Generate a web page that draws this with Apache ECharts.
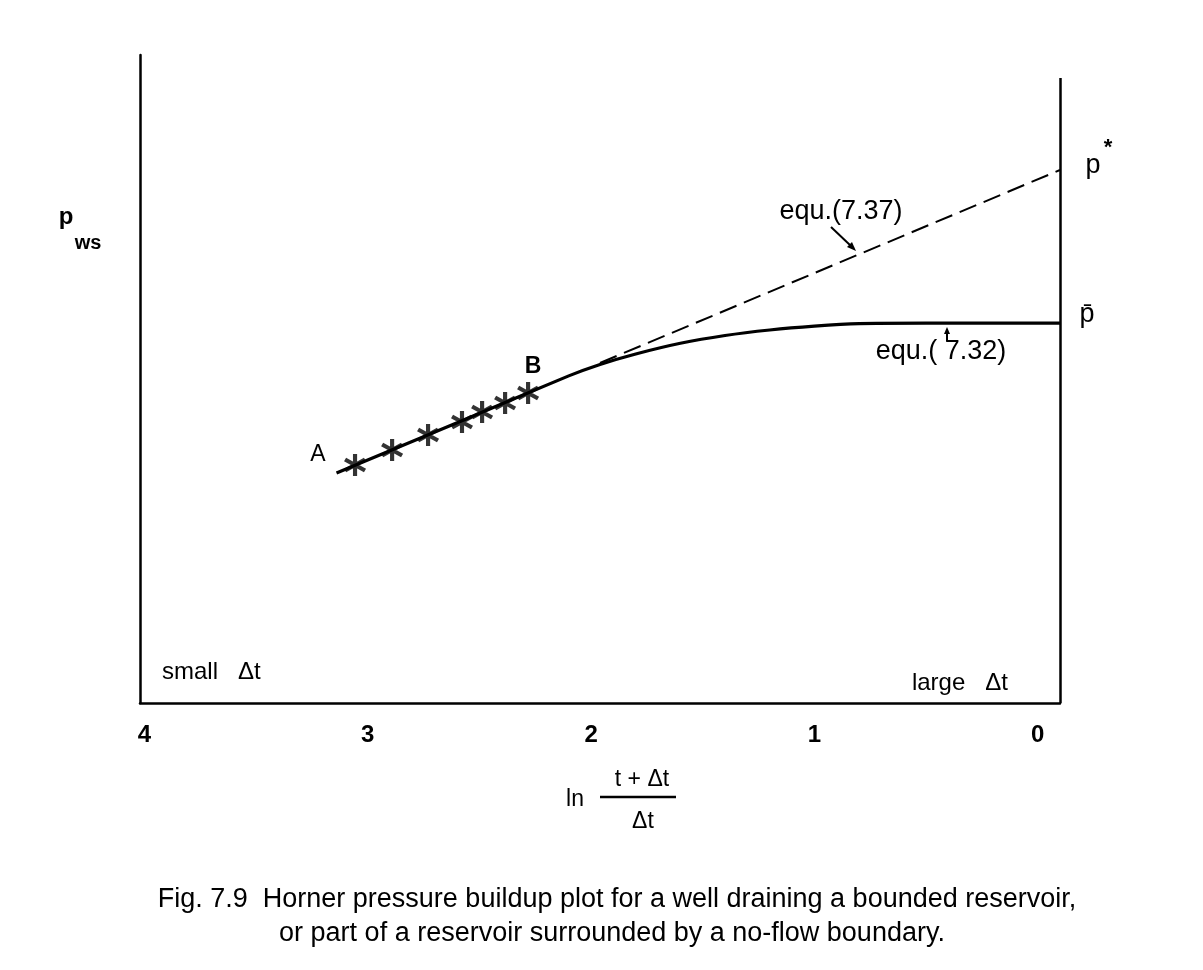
<!DOCTYPE html>
<html>
<head>
<meta charset="utf-8">
<script src="https://cdn.jsdelivr.net/npm/echarts@6/dist/echarts.min.js"></script>
<style>
html,body{margin:0;padding:0;background:#fff;}
#chart{width:1203px;height:970px;}
</style>
</head>
<body>
<div id="chart"></div>
<script>
// ---- data ----
// x = ln((t+Δt)/Δt), reversed axis; y = p_ws (arbitrary units)
const xTickValues = [0, 1, 2, 3, 4];
const xTickLabels = ['0', '1', '2', '3', '4'];
const xLo = -0.1, xHi = 4.02;
const yLo = 0, yHi = 10;

// measured buildup points (stars) A ... B
const starX = [3.057, 2.891, 2.730, 2.578, 2.488, 2.385, 2.282];
const starY = [3.673, 3.904, 4.136, 4.336, 4.491, 4.630, 4.784];

// solid curve, equ.(7.32)
const curveX = [3.14, 2.6, 2.1, 1.96, 1.8, 1.6, 1.4, 1.2, 1.0, 0.8, 0.5, 0.2, -0.1];
const curveY = [3.549, 4.326, 5.048, 5.224, 5.386, 5.551, 5.671, 5.756, 5.816, 5.855, 5.862, 5.862, 5.862];

// dashed extrapolation, equ.(7.37)
const dashX = [1.96, -0.1];
const dashY = [5.247, 8.225];

// right boundary line (x = xLo) height
const rightLineTop = 9.645;

const chart = echarts.init(document.getElementById('chart'));
const zip = (a, b) => a.map((v, i) => [v, b[i]]);
const FONT = '"Liberation Sans", Arial, sans-serif';
const starPath = 'path://M8.2,20L11.8,20L11.8,0L8.2,0ZM17.76,16.56L19.56,13.44L2.24,3.44L0.44,6.56ZM0.44,13.44L2.24,16.56L19.56,6.56L17.76,3.44Z';

function txt(x, y, text, size, weight, align) {
  return {
    type: 'text', silent: true,
    style: {
      x: x, y: y, text: text, fill: '#000',
      font: (weight || 'normal') + ' ' + size + 'px ' + FONT,
      textAlign: align || 'center', textVerticalAlign: 'middle'
    }
  };
}

const option = {
  backgroundColor: '#fff',
  animation: false,
  grid: { left: 140, right: 143, top: 55, bottom: 267 },
  xAxis: {
    type: 'value', inverse: true, min: xLo, max: xHi,
    axisLine: { show: true, onZero: false, lineStyle: { color: '#000', width: 2.5 } },
    axisTick: { show: false },
    splitLine: { show: false },
    axisLabel: {
      customValues: xTickValues,
      formatter: v => xTickLabels[xTickValues.indexOf(Math.round(v))],
      color: '#000', fontSize: 24, fontWeight: 'bold', fontFamily: FONT, margin: 20
    }
  },
  yAxis: {
    type: 'value', min: yLo, max: yHi, position: 'left',
    axisLine: { show: true, onZero: false, lineStyle: { color: '#000', width: 2.5 } },
    axisTick: { show: false },
    splitLine: { show: false },
    axisLabel: { show: false }
  },
  series: [
    {
      name: 'equ.(7.32)', type: 'line', data: zip(curveX, curveY),
      showSymbol: false, smooth: 0.2,
      lineStyle: { color: '#000', width: 3.2 },
      markLine: {
        silent: true, symbol: ['none', 'none'], label: { show: false },
        lineStyle: { color: '#000', width: 2.5, type: 'solid' },
        data: [[{ coord: [xLo, yLo] }, { coord: [xLo, rightLineTop] }]]
      },
      z: 3
    },
    {
      name: 'equ.(7.37)', type: 'line', data: zip(dashX, dashY),
      showSymbol: false,
      lineStyle: { color: '#000', width: 2, type: [18, 8] },
      z: 2
    },
    {
      name: 'data', type: 'scatter', data: zip(starX, starY),
      symbol: starPath, symbolSize: 22,
      itemStyle: { color: '#000' }, z: 4
    }
  ],
  graphic: [
    // y-axis name p_ws
    txt(66, 217, 'p', 24, 'bold'),
    txt(88, 243, 'ws', 20, 'bold'),
    // point labels
    txt(318, 455, 'A', 23, 'normal'),
    txt(533, 367, 'B', 23, 'bold'),
    // right-side labels
    txt(1093, 166, 'p', 27, 'normal'),
    txt(1108, 148, '*', 22, 'bold'),
    txt(1087, 315, 'p\u0304', 27, 'normal'),
    // equation labels
    txt(841, 212, 'equ.(7.37)', 27, 'normal'),
    txt(941, 352, 'equ.( 7.32)', 27, 'normal'),
    { type: 'line', silent: true, shape: { x1: 831, y1: 227, x2: 851, y2: 246 }, style: { stroke: '#000', lineWidth: 2 } },
    { type: 'polygon', silent: true, shape: { points: [[856, 251], [847, 247], [852, 242]] }, style: { fill: '#000' } },
    { type: 'line', silent: true, shape: { x1: 947, y1: 341, x2: 947, y2: 332 }, style: { stroke: '#000', lineWidth: 2 } },
    { type: 'polygon', silent: true, shape: { points: [[947, 327], [944, 334], [950, 334]] }, style: { fill: '#000' } },
    // corner labels
    txt(162, 672, 'small   \u0394t', 24, 'normal', 'left'),
    txt(1008, 683, 'large   \u0394t', 24, 'normal', 'right'),
    // x-axis name: ln (t+Δt)/Δt
    txt(575, 800, 'ln', 23, 'normal'),
    txt(642, 780, 't + \u0394t', 23, 'normal'),
    { type: 'line', silent: true, shape: { x1: 600, y1: 797, x2: 676, y2: 797 }, style: { stroke: '#000', lineWidth: 2.5 } },
    txt(643, 822, '\u0394t', 23, 'normal'),
    // caption
    txt(617, 900, 'Fig. 7.9  Horner pressure buildup plot for a well draining a bounded reservoir,', 27, 'normal'),
    txt(612, 934, 'or part of a reservoir surrounded by a no-flow boundary.', 27, 'normal')
  ]
};
chart.setOption(option);
</script>
</body>
</html>
